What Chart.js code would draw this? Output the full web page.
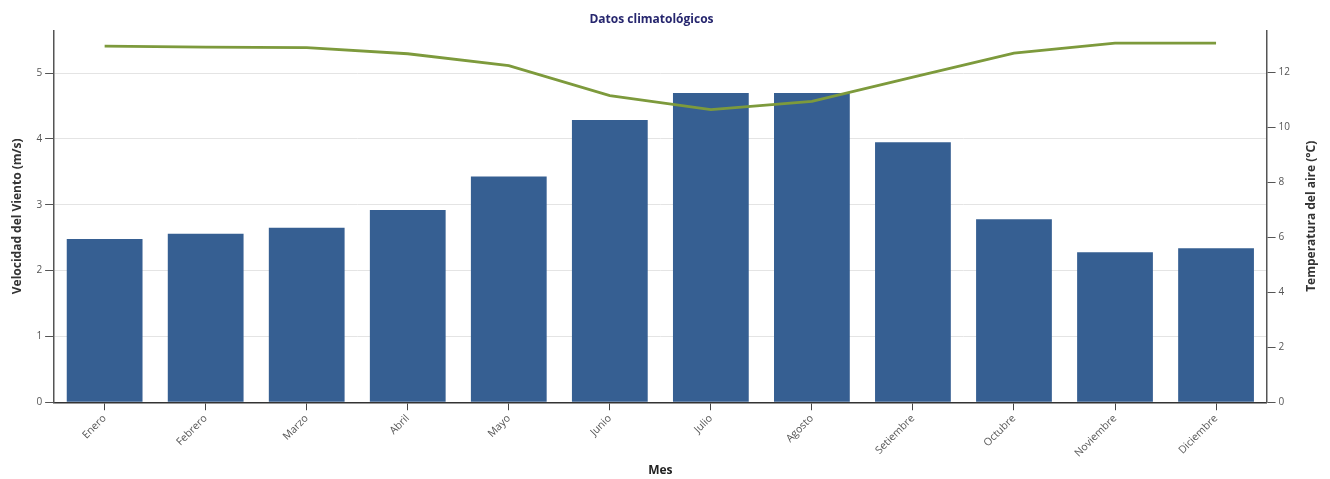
<!DOCTYPE html>
<html>
<head>
<meta charset="utf-8">
<script src="https://cdn.jsdelivr.net/npm/chart.js@4/dist/chart.umd.min.js"></script>
<style>
  html, body { margin: 0; padding: 0; background: #fff; }
  #wrap { width: 1330px; height: 479px; }
</style>
</head>
<body>
<div id="wrap"><canvas id="chart"></canvas></div>
<script>
const meses = ['Enero', 'Febrero', 'Marzo', 'Abril', 'Mayo', 'Junio', 'Julio',
  'Agosto', 'Setiembre', 'Octubre', 'Noviembre', 'Diciembre'];
// velocidad media del viento (m/s)
const viento = [2.48, 2.56, 2.65, 2.92, 3.43, 4.29, 4.70, 4.70, 3.95, 2.78, 2.28, 2.34];
// temperatura media del aire (°C)
const temperatura = [12.96, 12.92, 12.90, 12.68, 12.25, 11.16, 10.65, 10.95, 11.83, 12.70, 13.07, 13.07];

const FONT = "'Open Sans', 'Noto Sans', sans-serif";

// keep only whole ticks (min/max are not round numbers)
const soloEnteros = step => scale => {
  scale.ticks = scale.ticks.filter(t => Math.abs(t.value / step - Math.round(t.value / step)) < 1e-6);
};

// right axis title reads bottom-to-top like the left one
const tituloDerecho = {
  id: 'tituloDerecho',
  afterDraw(chart) {
    const { ctx, chartArea } = chart;
    ctx.save();
    ctx.translate(1312, (chartArea.top + chartArea.bottom) / 2);
    ctx.rotate(-Math.PI / 2);
    ctx.font = `bold 12px ${FONT}`;
    ctx.fillStyle = '#333';
    ctx.textAlign = 'center';
    ctx.textBaseline = 'middle';
    ctx.fillText('Temperatura del aire (°C)', 0, 0);
    ctx.restore();
  }
};

new Chart(document.getElementById('chart'), {
  type: 'bar',
  data: {
    labels: meses,
    datasets: [
      {
        type: 'line',
        label: 'Temperatura del aire',
        data: temperatura,
        yAxisID: 'yTemp',
        borderColor: '#7d9a3c',
        borderWidth: 2.8,
        pointRadius: 0,
        tension: 0,
        order: 0
      },
      {
        label: 'Velocidad del Viento',
        data: viento,
        yAxisID: 'yViento',
        backgroundColor: '#365f92',
        categoryPercentage: 0.75,
        barPercentage: 1,
        order: 1
      }
    ]
  },
  options: {
    responsive: true,
    maintainAspectRatio: false,
    animation: false,
    layout: { padding: { top: 4, right: 37, left: 10, bottom: 1 } },
    plugins: {
      legend: { display: false },
      tooltip: { enabled: false },
      title: {
        display: true,
        text: 'Datos climatológicos',
        color: '#26266e',
        font: { family: FONT, size: 12, weight: 'bold' },
        padding: { top: 8, bottom: 4 }
      }
    },
    scales: {
      x: {
        grid: { display: true, offset: false, drawOnChartArea: false, tickLength: 8, tickColor: '#444' },
        border: { color: '#333', width: 1.5 },
        ticks: {
          color: '#555', font: { family: FONT, size: 10.5 },
          minRotation: 45, maxRotation: 45, padding: 2
        },
        title: {
          display: true, text: 'Mes', color: '#222',
          font: { family: FONT, size: 12, weight: 'bold' }, padding: { top: 2, bottom: 0 }
        }
      },
      yViento: {
        position: 'left',
        min: 0,
        max: 5.65,
        afterBuildTicks: soloEnteros(1),
        grid: { color: '#e4e4e4', tickColor: '#555', tickLength: 9 },
        border: { color: '#555', width: 1.5 },
        ticks: { stepSize: 1, color: '#555', font: { family: FONT, size: 10 }, padding: 3 },
        title: {
          display: true, text: 'Velocidad del Viento (m/s)', color: '#333',
          font: { family: FONT, size: 12, weight: 'bold' }, padding: { top: 0, bottom: 9 }
        }
      },
      yTemp: {
        position: 'right',
        min: 0,
        max: 13.53,
        afterBuildTicks: soloEnteros(2),
        grid: { drawOnChartArea: false, tickColor: '#555', tickLength: 9 },
        border: { color: '#555', width: 1.5 },
        ticks: { stepSize: 2, color: '#555', font: { family: FONT, size: 10 }, padding: 3 }
      }
    }
  },
  plugins: [tituloDerecho]
});
</script>
</body>
</html>
